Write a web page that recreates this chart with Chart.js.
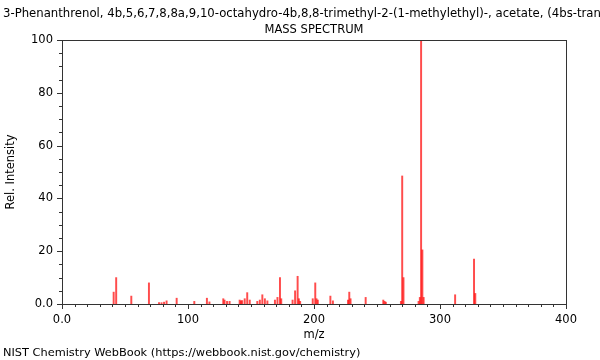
<!DOCTYPE html>
<html>
<head>
<meta charset="utf-8">
<script src="https://cdn.jsdelivr.net/npm/chart.js@4/dist/chart.umd.min.js"></script>
<style>
  html, body { margin: 0; padding: 0; background: #fff; }
  #wrap { width: 600px; height: 360px; }
</style>
</head>
<body>
<div id="wrap"><canvas id="spectrum"></canvas></div>
<script>
var titleText = '3-Phenanthrenol, 4b,5,6,7,8,8a,9,10-octahydro-4b,8,8-trimethyl-2-(1-methylethyl)-, acetate, (4bs-trans)-';
var subTitle = 'MASS SPECTRUM';
var footer = 'NIST Chemistry WebBook (https://webbook.nist.gov/chemistry)';

// m/z and relative intensity
var mz = [41, 43, 55, 69, 77, 79, 81, 83, 91, 105, 115, 117, 128, 129, 131, 133,
  141, 142, 143, 145, 147, 149, 155, 157, 159, 161, 163, 169, 171, 173, 174,
  183, 185, 187, 188, 189, 199, 201, 202, 203, 213, 215, 227, 228, 229, 241,
  255, 256, 257, 269, 270, 271, 283, 284, 285, 286, 287, 312, 327, 328];
var intensity = [4.5, 10, 3, 8, 0.5, 0.5, 0.7, 1.2, 2.2, 1, 2.2, 0.8, 2, 1.5, 1, 1,
  1.5, 1.2, 1.3, 2, 4.3, 1.5, 1, 1.5, 3.5, 2, 1.2, 1.5, 2.5, 10, 2,
  1.5, 5, 10.5, 2, 1, 2, 8, 2, 1.5, 3, 1.2, 1.5, 4.5, 2, 2.5,
  1.5, 1, 0.7, 1, 48.5, 10, 1, 2.5, 100, 20.5, 2.5, 3.5, 17, 4];

var xTicks = [0, 100, 200, 300, 400];
var yTicks = [0, 20, 40, 60, 80, 100];

var points = mz.map(function(m, i) { return { x: m, y: intensity[i] }; });

var font = { family: 'DejaVu Sans', size: 11.5 };

// frame, minor/major ticks and the loose texts
var decor = {
  id: 'decor',
  afterDraw: function(chart) {
    var ctx = chart.ctx;
    var a = chart.chartArea;
    var xs = chart.scales.x, ys = chart.scales.y;
    ctx.save();
    ctx.strokeStyle = '#333';
    ctx.lineWidth = 1;
    ctx.strokeRect(a.left + 0.5, a.top + 0.5, a.right - a.left, a.bottom - a.top);
    ctx.beginPath();
    for (var v = 0; v <= 400; v += 10) {
      var px = Math.round(xs.getPixelForValue(v)) + 0.5;
      var len = (v % 100 === 0) ? 5 : 3;
      ctx.moveTo(px, a.bottom);
      ctx.lineTo(px, a.bottom + len);
    }
    for (var w = 0; w <= 100; w += 5) {
      var py = Math.round(ys.getPixelForValue(w)) + 0.5;
      var l = (w % 20 === 0) ? 5 : 3;
      ctx.moveTo(a.left, py);
      ctx.lineTo(a.left - l, py);
    }
    ctx.stroke();
    ctx.fillStyle = '#000';
    ctx.textBaseline = 'middle';
    ctx.textAlign = 'left';
    ctx.font = '11.7px "DejaVu Sans"';
    ctx.fillText(titleText, 3, 14);
    ctx.font = '11.35px "DejaVu Sans"';
    ctx.fillText(footer, 3, 353);
    ctx.textAlign = 'center';
    ctx.font = '11.5px "DejaVu Sans"';
    ctx.fillText(subTitle, (a.left + a.right) / 2, 30);
    ctx.restore();
  }
};

new Chart(document.getElementById('spectrum'), {
  type: 'bar',
  data: {
    datasets: [{
      data: points,
      backgroundColor: 'rgba(255, 0, 0, 0.7)',
      barThickness: 1.3,
      borderWidth: 0
    }]
  },
  options: {
    responsive: true,
    maintainAspectRatio: false,
    animation: false,
    layout: { padding: { top: 40, right: 34, left: 0, bottom: 14 } },
    plugins: { legend: { display: false }, tooltip: { enabled: false }, title: { display: false } },
    scales: {
      x: {
        type: 'linear',
        min: 0,
        max: 400,
        offset: false,
        afterFit: function(s) { s.height = 42; },
        afterBuildTicks: function(s) { s.ticks = xTicks.map(function(v) { return { value: v }; }); },
        grid: { display: false },
        border: { display: false },
        ticks: {
          color: '#000',
          font: font,
          padding: 1,
          maxRotation: 0,
          callback: function(v) { return v === 0 ? '0.0' : String(v); }
        },
        title: { display: true, text: 'm/z', color: '#000', font: font, padding: { top: 0, bottom: 4 } }
      },
      y: {
        min: 0,
        max: 100,
        afterFit: function(s) { s.width = 62; },
        afterBuildTicks: function(s) { s.ticks = yTicks.map(function(v) { return { value: v }; }); },
        grid: { display: false },
        border: { display: false },
        ticks: {
          color: '#000',
          font: font,
          padding: 1,
          callback: function(v) { return v === 0 ? '0.0' : String(v); }
        },
        title: { display: true, text: 'Rel. Intensity', color: '#000', font: font, padding: 4 }
      }
    }
  },
  plugins: [decor]
});
</script>
</body>
</html>
